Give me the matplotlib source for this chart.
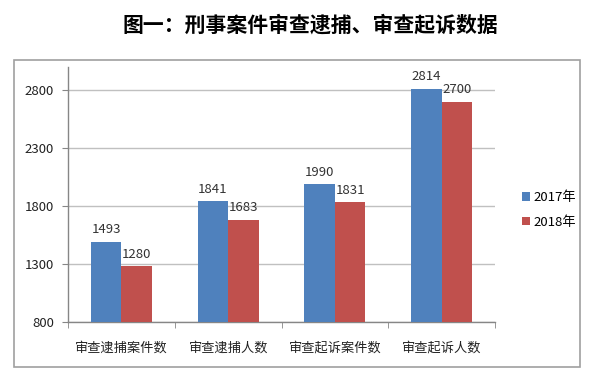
import numpy as np
import matplotlib.pyplot as plt
from matplotlib.patches import Rectangle

plt.rcParams['font.family'] = ['Noto Sans CJK SC', 'DejaVu Sans']

# --- data ---
categories = ['审查逮捕案件数', '审查逮捕人数', '审查起诉案件数', '审查起诉人数']
series_names = ['2017年', '2018年']
values_2017 = [1493, 1841, 1990, 2814]
values_2018 = [1280, 1683, 1831, 2700]
yticks = [800, 1300, 1800, 2300, 2800]

blue = '#4F81BD'
red = '#C0504D'
axis_grey = '#868686'

fig = plt.figure(figsize=(6.06, 3.88), dpi=100)

# outer chart frame
fig.patches.append(Rectangle((14 / 606, 1 - 367 / 388), 566 / 606, 307 / 388,
                             transform=fig.transFigure, fill=False,
                             edgecolor='#A0A0A0', linewidth=1.2))

fig.text(310 / 606, 1 - 25 / 388, '图一：刑事案件审查逮捕、审查起诉数据',
         ha='center', va='center', fontsize=15, fontweight='bold', color='black')

ax = fig.add_axes([68 / 606, 1 - 322 / 388, 427 / 606, 255 / 388])

x = np.arange(len(categories))
w = 0.286
b1 = ax.bar(x - w / 2, values_2017, w, color=blue, label=series_names[0], zorder=3)
b2 = ax.bar(x + w / 2, values_2018, w, color=red, label=series_names[1], zorder=3)

for bars, vals in ((b1, values_2017), (b2, values_2018)):
    for rect, v in zip(bars, vals):
        ax.annotate(str(v), (rect.get_x() + rect.get_width() / 2, v),
                    xytext=(0, 4), textcoords='offset points',
                    ha='center', va='bottom', fontsize=9.5, color='#333333', zorder=4)

ax.set_ylim(800, 3000)
ax.set_xlim(-0.5, len(categories) - 0.5)
ax.set_yticks(yticks)
ax.set_yticklabels([str(t) for t in yticks], fontsize=9.5, color='#222222')
ax.yaxis.grid(True, color='#C0C0C0', linewidth=1.0, zorder=0)

ax.set_xticks(x)
ax.set_xticklabels(categories, fontsize=9.5, color='#222222')
ax.tick_params(axis='x', which='major', length=0, pad=14)
ax.set_xticks(np.arange(len(categories) + 1) - 0.5, minor=True)
ax.tick_params(axis='x', which='minor', length=4, color=axis_grey, direction='out')
ax.tick_params(axis='y', length=4, color=axis_grey, pad=6)

for s in ('top', 'right'):
    ax.spines[s].set_visible(False)
for s in ('left', 'bottom'):
    ax.spines[s].set_color(axis_grey)
    ax.spines[s].set_linewidth(1.0)

leg = fig.legend(handles=[b1, b2], labels=series_names, loc='center left',
                 bbox_to_anchor=(510 / 606, 1 - 210 / 388), frameon=False,
                 fontsize=9.5, handlelength=0.6, handleheight=0.6,
                 handletextpad=0.3, labelspacing=0.9)

fig.savefig('out.png', dpi=100)
